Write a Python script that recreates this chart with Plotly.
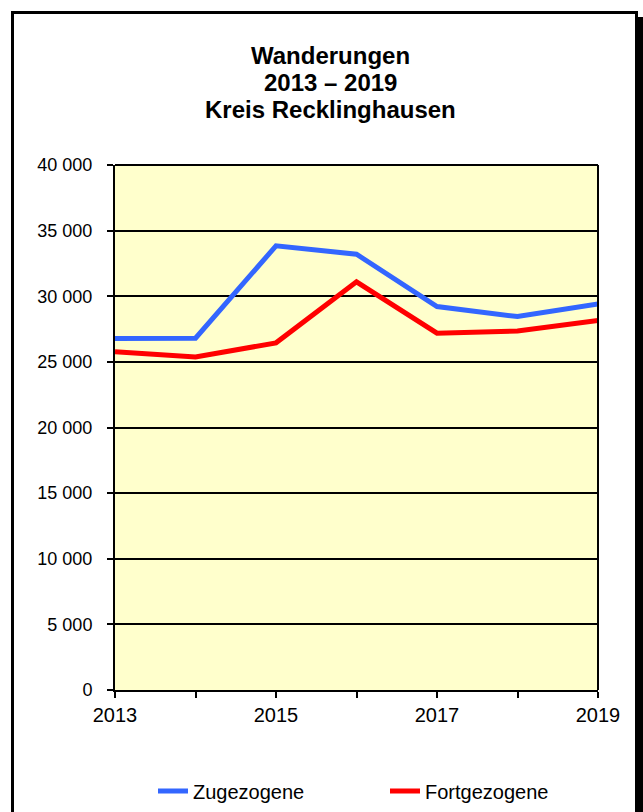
import plotly.graph_objects as go

years = [2013, 2014, 2015, 2016, 2017, 2018, 2019]
zugezogene = [26780, 26800, 33840, 33200, 29220, 28450, 29420]
fortgezogene = [25770, 25370, 26450, 31100, 27190, 27350, 28150]
x_tick_text = ["2013", "", "2015", "", "2017", "", "2019"]
y_ticks = [0, 5000, 10000, 15000, 20000, 25000, 30000, 35000, 40000]
y_tick_text = ["0", "5 000", "10 000", "15 000", "20 000", "25 000", "30 000", "35 000", "40 000"]
title_lines = ["Wanderungen", "2013 – 2019", "Kreis Recklinghausen"]

W, H = 643, 812
L, R, T, B = 115, 598, 165, 690
pw, ph = R - L, B - T

def px(x):
    return (x - L) / pw

def py(y):
    return (B - y) / ph

fig = go.Figure()
fig.add_trace(go.Scatter(x=years, y=zugezogene, name="Zugezogene", mode="lines",
                         line=dict(color="#3366FF", width=5)))
fig.add_trace(go.Scatter(x=years, y=fortgezogene, name="Fortgezogene", mode="lines",
                         line=dict(color="#FF0000", width=5)))

font = "Liberation Sans, Arial, sans-serif"
title_y = [55, 82, 110]
annotations = [
    dict(text="<b>%s</b>" % t, xref="paper", yref="paper", x=px(330), y=py(yc),
         xanchor="center", yanchor="middle", showarrow=False,
         font=dict(size=24, family=font, color="black"))
    for t, yc in zip(title_lines, title_y)
]

fig.update_layout(
    width=W, height=H, autosize=False,
    margin=dict(l=L, r=W - R, t=T, b=H - B),
    paper_bgcolor="white",
    plot_bgcolor="#FFFFCC",
    font=dict(family=font, size=18, color="black"),
    annotations=annotations,
    xaxis=dict(range=[2013, 2019], tickvals=years, ticktext=x_tick_text,
               showgrid=False, zeroline=False, showline=True, linecolor="black", linewidth=2,
               ticks="outside", ticklen=6, tickwidth=2, tickcolor="black",
               tickfont=dict(size=20)),
    yaxis=dict(range=[0, 40000], tickvals=y_ticks, ticktext=y_tick_text,
               showgrid=True, gridcolor="black", gridwidth=2, zeroline=False,
               showline=True, linecolor="black", linewidth=2,
               ticks="outside", ticklen=6, tickwidth=2, tickcolor="black",
               ticklabelstandoff=11, tickfont=dict(size=18)),
    showlegend=True,
    legend=dict(orientation="h", xref="container", yref="container",
                x=153 / W, xanchor="left", y=(H - 791) / H, yanchor="middle",
                font=dict(size=20), entrywidth=187, entrywidthmode="pixels",
                bgcolor="rgba(0,0,0,0)"),
    shapes=[
        dict(type="rect", xref="paper", yref="paper",
             x0=px(637), x1=px(643), y0=py(812), y1=py(17),
             fillcolor="black", line=dict(width=0), layer="above"),
        dict(type="rect", xref="paper", yref="paper",
             x0=px(12.5), x1=px(636.5), y0=py(830), y1=py(12.5),
             fillcolor="rgba(0,0,0,0)", line=dict(color="black", width=3), layer="above"),
        dict(type="line", xref="paper", yref="paper",
             x0=1, x1=1, y0=0, y1=1, line=dict(color="black", width=2), layer="above"),
        dict(type="line", xref="paper", yref="paper",
             x0=0, x1=1, y0=1, y1=1, line=dict(color="black", width=2), layer="above"),
    ],
)

fig.write_html("out.html",
               config={"responsive": False, "displayModeBar": False},
               post_script="document.body.style.margin='0';document.body.style.overflow='hidden';")
